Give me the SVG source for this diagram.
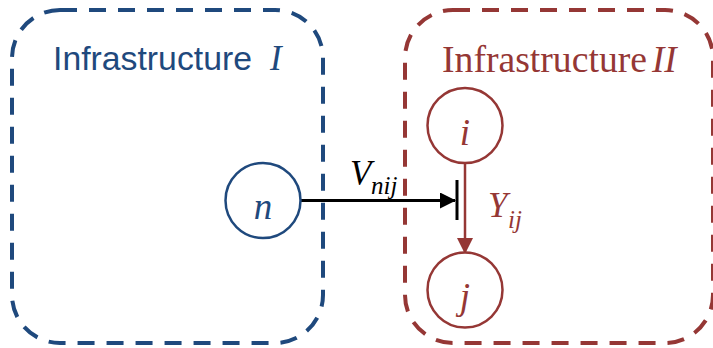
<svg xmlns="http://www.w3.org/2000/svg" width="713" height="348" viewBox="0 0 713 348">
<style>
.box{fill:none;stroke-width:4;stroke-dasharray:17 12}
.blue{stroke:#1F497D}
.red{stroke:#953735}
.node{fill:#fff;stroke-width:2.5}
.serif{font-family:"Liberation Serif","Times New Roman",serif;font-style:italic}
</style>
<defs>
<marker id="ahB" markerWidth="16" markerHeight="16" refX="15" refY="8" orient="auto" markerUnits="userSpaceOnUse"><path d="M0,0 L16,8 L0,16 Z" fill="#000"/></marker>
<marker id="ahR" markerWidth="16" markerHeight="16" refX="15" refY="8" orient="auto" markerUnits="userSpaceOnUse"><path d="M0,0 L16,8 L0,16 Z" fill="#953735"/></marker>
</defs>
<g id="infra1">
<rect class="box blue" x="12" y="10" width="311" height="333" rx="48"/>
<text x="53" y="70" font-family="'Liberation Sans',Arial,sans-serif" font-size="33" fill="#1F497D"><tspan textLength="199" lengthAdjust="spacingAndGlyphs">Infrastructure</tspan><tspan class="serif" x="270" font-size="35">I</tspan></text>
</g>
<g id="infra2">
<rect class="box red" x="405" y="10" width="308" height="333" rx="48"/>
<text x="442" y="72" font-family="'Liberation Serif','Times New Roman',serif" font-size="37" fill="#953735"><tspan textLength="205" lengthAdjust="spacingAndGlyphs">Infrastructure</tspan><tspan class="serif" x="652">II</tspan></text>
</g>
<g id="connectors">
<line x1="301" y1="200.5" x2="455" y2="200.5" stroke="#000" stroke-width="3" marker-end="url(#ahB)"/>
<line x1="457" y1="180" x2="457" y2="220" stroke="#000" stroke-width="3"/>
<line x1="465" y1="164" x2="465" y2="253" stroke="#953735" stroke-width="2.5" marker-end="url(#ahR)"/>
<text class="serif" x="350" y="185" font-size="35" fill="#000">V<tspan x="371" y="194" font-size="25">nij</tspan></text>
<text class="serif" x="488" y="217" font-size="35" fill="#953735">Y<tspan x="508" y="228" font-size="25">ij</tspan></text>
</g>
<g id="node-n">
<circle class="node blue" cx="263" cy="200.5" r="37.5"/>
<text class="serif" x="263" y="219" text-anchor="middle" font-size="37" fill="#1F497D">n</text>
</g>
<g id="node-i">
<circle class="node red" cx="465" cy="125.5" r="37.5"/>
<text class="serif" x="465" y="145" text-anchor="middle" font-size="37" fill="#953735">i</text>
</g>
<g id="node-j">
<circle class="node red" cx="465" cy="290" r="37.5"/>
<text class="serif" x="465" y="309" text-anchor="middle" font-size="37" fill="#953735">j</text>
</g>
</svg>
